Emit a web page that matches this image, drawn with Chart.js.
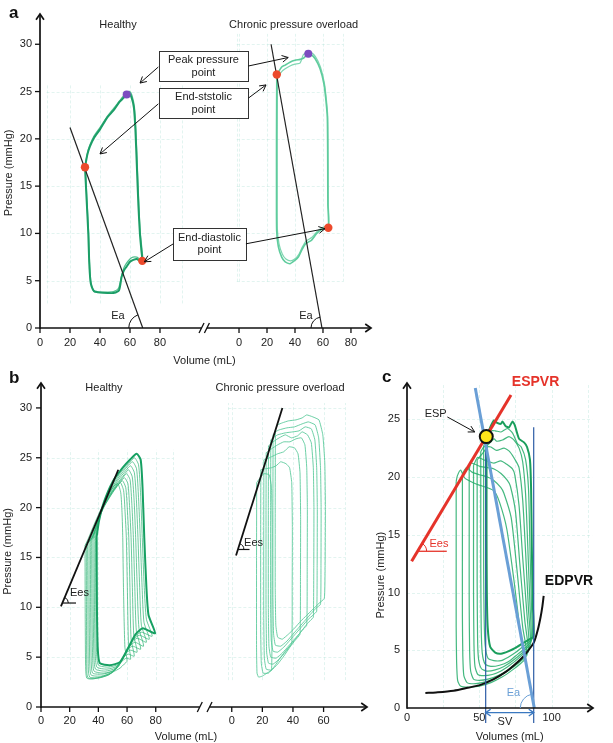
<!DOCTYPE html>
<html>
<head>
<meta charset="utf-8">
<title>Pressure-volume loops</title>
<script src="https://cdn.jsdelivr.net/npm/chart.js@4.4.1/dist/chart.umd.min.js"></script>
<style>
  body { margin: 0; background: #fff; }
  #page { position: relative; width: 613px; height: 743px; overflow: hidden; }
  canvas { position: absolute; }
</style>
</head>
<body>
<div id="page">
  <canvas id="panelA" width="390" height="370" style="left:0;top:0"></canvas>
  <canvas id="panelB" width="372" height="373" style="left:0;top:370px"></canvas>
  <canvas id="panelC" width="241" height="373" style="left:372px;top:370px"></canvas>
</div>
<script>
'use strict';
const FONT = '"Liberation Sans", Arial, Helvetica, sans-serif';

// ---------------- panel a : one beat per condition ----------------
let aYTicks = [0, 5, 10, 15, 20, 25, 30];
let aXTicks = [0, 20, 40, 60, 80];
let aHealthy = [[30,17],[31.1,13.5],[32.2,10],[32.8,7],[33.6,5],[34.4,4.4],[36,3.9],[40,3.75],[45,3.7],[48.9,3.7],[52.7,4.0],[54.4,5.4],[56,6.1],[57.8,6.5],[60,7.0],[62.2,7.2],[64.5,7.3],[66.5,7.1],[68.2,7.1],[67.6,8.2],[66.6,10],[65.6,13],[64.6,17],[63.6,21],[62.6,23.3],[61,24.4],[59.5,24.8],[57.8,24.7],[55.5,24.3],[53,23.9],[49,23.0],[45,22.3],[40,21.0],[36,20.1],[33.3,19.2],[31.5,18.3],[30,17]];
let aHealthy2 = [[30.2,17.2],[31.3,13.5],[32.4,10],[33,7],[33.8,5],[34.7,4.3],[36.3,3.85],[40,3.8],[45,3.8],[49,3.85],[52.4,4.2],[54,5.2],[55.8,6.3],[57.5,6.8],[60,7.3],[62,7.5],[64.5,7.5],[66.5,7.3],[68.5,7.2],[67.9,8.4],[66.9,10],[65.9,13],[64.9,17],[63.9,21],[62.9,23.4],[61.3,24.6],[59.8,25.0],[58,24.9],[55.5,24.5],[53,24.0],[49,23.2],[45,22.4],[40,21.2],[36,20.3],[33.4,19.4],[31.6,18.5],[30.2,17.2]];
let aChronic = [[27,26.8],[26.9,24],[26.8,20],[26.8,15],[26.9,10.3],[28.1,8.6],[30.5,7.5],[33,7.0],[36.4,6.8],[39.5,7.1],[42.4,7.5],[45,8.3],[47.5,8.9],[51.9,9.3],[55.5,10.0],[59.1,10.4],[63.8,10.6],[63.5,13],[63.4,17],[63.3,20],[63.1,22.3],[62.1,24.1],[60.7,25.8],[57.9,27.4],[54.3,28.5],[50.7,29.0],[49.5,29.0],[45.9,28.5],[43.6,28.4],[40,28.3],[36.4,28.1],[33,27.8],[30.5,27.6],[27,26.8]];
let aChronic2 = [[27.5,26.5],[27.4,24],[27.3,20],[27.3,15],[27.4,10.5],[28.6,8.9],[31,7.8],[33.5,7.3],[36.8,7.1],[39.8,7.3],[42.8,7.8],[45.4,8.6],[48,9.2],[52.2,9.6],[55.8,10.2],[59.4,10.6],[64,10.9],[63.8,13],[63.7,17],[63.6,20],[63.4,22.4],[62.4,24.2],[61,25.9],[58.2,27.6],[54.6,28.7],[51,29.2],[49.5,29.2],[46,28.9],[43.6,28.0],[40,27.9],[36.4,27.7],[33,27.4],[30.5,27.1],[27.5,26.5]];
let aHealthyKey = [[30,17],[68.2,7.1]];      // end-systolic, end-diastolic
let aHealthyPeak = [[57.8,24.7]];
let aChronicKey = [[27,26.8],[63.8,10.6]];
let aChronicPeak = [[49.5,29.0]];
let aHealthyEa = [[20,21.2],[68.5,0]];
let aChronicEa = [[22.9,30],[59.3,0]];

// ---------------- panel b : preload reduction ----------------
let bYTicks = [0, 5, 10, 15, 20, 25, 30];
let bXTicksLeft = [0, 20, 40, 60, 80];
let bXTicksRight = [0, 20, 40, 60];
let bHealthy = [
  [[38.8,17.1],[39,10],[39.6,5.8],[41,4.4],[48,4.2],[55,4.5],[61,6],[66,7.3],[71,7.9],[79.5,7.4],[75,9.2],[73.5,12],[72,17],[70.8,22],[69.5,24.8],[66.7,25.4],[62,24.8],[57,24],[50,22.6],[44,20.6],[40.5,18.7],[38.8,17.1]],
  [[38,17],[38.2,10],[38.7,5.6],[40,4.2],[47,4.0],[54,4.3],[60,5.7],[65,7.0],[70,7.5],[77.5,7.1],[73.5,8.8],[72,12],[70.6,17],[69.4,21.5],[68,24.3],[65.2,25.0],[61,24.4],[56,23.6],[49.5,22.2],[43.5,20.3],[40,18.5],[38,17]],
  [[37.1,16.9],[37.3,10],[37.8,5.4],[39,4.0],[46,3.8],[53,4.1],[59,5.4],[64,6.7],[68.5,7.2],[75.5,6.8],[71.8,8.5],[70.5,12],[69.2,17],[68,21],[66.6,23.9],[63.8,24.6],[60,24.1],[55,23.2],[49,21.9],[43,20.1],[39.3,18.3],[37.1,16.9]],
  [[36.2,16.8],[36.4,10],[36.9,5.2],[38,3.8],[45,3.6],[52,3.9],[58,5.1],[63,6.4],[67,6.9],[73.5,6.5],[70,8.2],[68.8,12],[67.6,17],[66.5,20.8],[65.1,23.5],[62.4,24.2],[59,23.7],[54,22.8],[48,21.5],[42.3,19.8],[38.6,18.1],[36.2,16.8]],
  [[35.3,16.7],[35.5,10],[36,5],[37,3.6],[44,3.4],[51,3.7],[57,4.8],[62,6.1],[65.5,6.5],[71.5,6.1],[68.3,7.9],[67.1,12],[66,17],[65,20.5],[63.6,23.1],[61,23.8],[58,23.3],[53,22.4],[47,21.1],[41.6,19.5],[37.9,17.8],[35.3,16.7]],
  [[34.4,16.6],[34.6,10],[35,4.7],[36,3.4],[43,3.3],[50,3.6],[56,4.6],[60.5,5.8],[64,6.1],[69.5,5.8],[66.5,7.6],[65.4,12],[64.4,17],[63.4,20.2],[62.1,22.8],[59.6,23.4],[56.5,22.9],[52,22.1],[46,20.8],[40.9,19.2],[37.2,17.5],[34.4,16.6]],
  [[33.5,16.5],[33.6,10],[34,4.3],[35,3.2],[42,3.1],[49,3.4],[55,4.3],[59,5.4],[62.5,5.7],[67,5.5],[64.7,7.2],[63.7,12],[62.8,17],[61.8,20],[60.6,22.4],[58.2,23.0],[55.5,22.6],[51,21.8],[45,20.4],[40.2,18.9],[36.5,17.2],[33.5,16.5]],
  [[32.5,16.4],[32.7,10],[33,3.8],[34,3.0],[41,2.95],[48,3.3],[54,4.1],[57.5,5.0],[61,5.3],[65,5.1],[62.8,6.8],[62,12],[61.2,17],[60.2,19.8],[59.1,22.0],[56.8,22.7],[54,22.3],[50,21.5],[44,20.1],[39.4,18.6],[35.5,17.0],[32.5,16.4]],
  [[31.6,16.3],[31.7,10],[32,3.4],[33,2.9],[40,2.9],[47,3.2],[53,3.9],[56.5,4.6],[59.5,4.9],[62.5,4.8],[61,6.4],[60.2,12],[59.5,17],[58.6,19.6],[57.6,21.7],[55.4,22.5],[52.5,22.1],[48.5,21.3],[43,19.9],[38.5,18.4],[34.6,16.9],[31.6,16.3]],
  [[30.7,16.2],[30.8,10],[31.1,4.2],[31.9,2.9],[36,2.8],[43.4,3.1],[50,3.5],[55.1,3.9],[58,4.3],[60,4.6],[58.5,6],[57.5,12],[57,17],[56.5,19.5],[55.6,21.5],[53.6,22.4],[51,22.2],[47,21.3],[42,19.9],[37,18.3],[33,16.9],[30.7,16.2]]
];
let bChronic = [
  [[28.5,27.8],[28.4,20],[28.4,12],[28.8,8.2],[30,7],[33,6.8],[37,7.3],[41,7.9],[45,8.6],[49,9.2],[53,9.8],[57,10.4],[60.5,10.9],[61,14],[61.2,20],[60.8,24.5],[59.5,27.3],[57,28.8],[53,29.1],[49,29.3],[46,29.0],[42,28.8],[37,28.7],[33,28.5],[30,28.3],[28.5,27.8]],
  [[27,27.3],[26.9,20],[26.9,11],[27.3,7.4],[28.5,6.2],[32,6.1],[36,6.6],[40,7.3],[44,8.0],[48,8.7],[52,9.4],[55,9.9],[58,10.3],[58.3,14],[58.4,20],[58,24],[56.8,27],[54.5,28.3],[50,28.6],[46,28.4],[41,28.1],[36,28.0],[31,27.8],[28.5,27.6],[27,27.3]],
  [[25.5,26.8],[25.4,20],[25.4,10],[25.8,6.7],[27,5.6],[30,5.5],[34,6.0],[38,6.7],[42,7.4],[46,8.1],[50,8.8],[53,9.2],[55.5,9.6],[55.8,14],[55.9,20],[55.5,24],[54.3,26.8],[52,27.9],[48,28.1],[44,27.7],[40,27.6],[35,27.5],[30,27.3],[27,27],[25.5,26.8]],
  [[24,26.2],[23.9,20],[23.9,10],[24.3,6.1],[25.5,5.0],[29,4.9],[33,5.4],[37,6.1],[41,6.8],[45,7.5],[49,8.3],[51.5,8.7],[53.3,9.0],[53.6,14],[53.7,20],[53.3,24],[52,26.5],[49.5,27.3],[46,27.6],[43,27.2],[39,27.0],[35,27.3],[31,27.0],[27,26.6],[24,26.2]],
  [[22.5,25.5],[22.4,20],[22.4,10],[22.8,5.5],[24,4.4],[27,4.3],[31,4.8],[35,5.5],[39,6.3],[43,7.1],[46,7.7],[49,8.2],[49.3,14],[49.4,20],[49,24],[47.8,26.3],[45.5,27.0],[42,26.9],[38,26.6],[34,26.6],[30,26.3],[26,25.9],[22.5,25.5]],
  [[21,24.8],[20.9,18],[20.9,9],[21.3,4.9],[22.5,3.8],[26,3.7],[30,4.3],[34,5.1],[38,6.0],[41.5,6.7],[44.6,7.3],[44.9,13],[45,19],[44.6,23.5],[43.3,25.4],[41,26.0],[37.5,26.1],[34,25.6],[30,25.4],[26,25.1],[23,24.9],[21,24.8]],
  [[19,23.8],[18.9,17],[18.9,8],[19.3,4.4],[20.5,3.4],[24,3.4],[28,4.1],[32,5.0],[35.5,5.7],[39.2,6.4],[39.5,12],[39.6,18],[39.2,22.5],[37.8,24.0],[35.5,24.4],[32,24.6],[29,24.2],[26,24.0],[22,23.9],[19,23.8]],
  [[16.3,22.5],[16.2,15],[16.2,6],[16.5,3.4],[17.5,3.0],[20,3.1],[23,3.4],[26,3.7],[26.3,10],[26.4,18],[26,22],[24.5,23.3],[21,23.4],[18,22.9],[16.3,22.5]]
];
let bHealthyEes = [[13.9,10.1],[53.9,23.8]];
let bChronicEes = [[2.8,15.2],[33.1,30]];

// ---------------- panel c : ESPVR / EDPVR ----------------
let cYTicks = [0, 5, 10, 15, 20, 25];
let cXTicks = [0, 50, 100];
let cLoops = [
  [[55,23.5],[55,20],[55,15],[55.2,10],[55.8,7],[57.5,5.3],[61,4.8],[65,4.7],[70,4.9],[75,5.2],[80,5.6],[84,5.9],[87.5,6.2],[87,9],[86.3,14],[85.8,19],[85,21.5],[83,22.6],[80.9,23.0],[77.5,23.3],[74.5,24.5],[72.9,24.8],[70.5,24.3],[68.3,24.4],[66,24.8],[64.8,24.6],[62,24.7],[60.2,24.9],[57.5,24.3],[55,23.5]],
  [[53,22.7],[53,18],[53,12],[53.3,8],[54,5.5],[56,4.3],[60,4.1],[65,4.1],[70,4.4],[75,4.8],[80,5.3],[84,5.7],[86.7,6.0],[86,9],[85,14],[84,19],[82,21.5],[79,22.6],[76.3,22.9],[73,23.8],[69.4,24.2],[65,23.9],[61,24.0],[57.8,24.0],[55,23.3],[53,22.7]],
  [[51,22.2],[51,18],[51,12],[51.3,7],[52,4.8],[54,3.8],[58,3.6],[64,3.7],[70,4.0],[75,4.5],[80,5.0],[84,5.5],[86,5.8],[85,9],[83.5,14],[82,18.5],[80,21.3],[77.5,22.5],[74,23.2],[70.5,23.5],[66,23.2],[62,23.1],[60.2,23.3],[56,22.8],[53,22.6],[51,22.2]],
  [[48.5,21.5],[48.5,17],[48.5,11],[48.8,6],[49.5,4.2],[51.5,3.4],[55,3.2],[61,3.3],[67,3.6],[73,4.1],[79,4.7],[83,5.2],[85.5,5.5],[84,8.5],[82,13.5],[80,18],[77.5,20.8],[75.2,21.4],[71,22.2],[67.1,22.5],[62,22.3],[58,22.6],[55.6,22.6],[52,22.0],[48.5,21.5]],
  [[46,21.0],[46,16],[46,10],[46.3,5.5],[47,3.6],[49,2.9],[53,2.8],[59,2.9],[65,3.2],[71,3.7],[77,4.3],[82,4.9],[84.5,5.2],[83,8],[80,13],[77.5,17.5],[74.5,20.2],[72.9,20.7],[69,21.1],[64.8,21.4],[60,21.2],[55,21.4],[51,21.6],[48.7,21.7],[46,21.0]],
  [[43,20.6],[43,15],[43,9],[43.3,5],[44,3.2],[46,2.5],[50,2.4],[56,2.5],[63,2.8],[70,3.3],[76,3.9],[81,4.5],[84,4.9],[81.5,7.5],[78,12.5],[75,17],[71.5,19.2],[69.4,19.7],[65,20.3],[60.2,20.7],[56,20.8],[51,20.9],[47,21.1],[44.1,21.2],[43,20.6]],
  [[38.3,20.3],[38.3,14],[38.3,8],[38.6,4.5],[39.3,2.8],[41.5,2.2],[46,2.1],[52,2.2],[60,2.5],[67,3.0],[74,3.6],[80,4.2],[83,4.6],[80,7],[76,12],[72,16.5],[67,18.6],[64.8,19.1],[60,19.7],[55.6,20.0],[50,20.2],[45.2,20.4],[41,20.8],[38.3,20.3]],
  [[34,19.6],[34,13],[34,7],[34.3,4],[35,2.4],[37,1.9],[42,1.8],[50,1.9],[58,2.2],[66,2.7],[73,3.3],[79,3.9],[82,4.3],[78.5,6.5],[74,11],[69,15.5],[64,17.8],[60.2,18.8],[55,19.1],[50,19.3],[45.8,19.5],[40,19.9],[37.1,20.6],[34.8,20.1],[34,19.6]]
];
let cEdpvr = [[12.7,1.3],[20,1.35],[32.2,1.5],[42,1.75],[50.8,2.0],[60,2.5],[68,3.1],[74,3.7],[80,4.4],[84,5.0],[87.8,5.7],[90.5,6.8],[92.4,7.9],[93.6,8.8],[94.5,9.7]];
let cEspvr = [[3.2,12.7],[71.9,27.1]];
let cEa = [[47.2,27.7],[88,0]];
let cEsp = [[54.8,23.5]];
let cEsv = [[54.4,-1.3],[54.4,23.5]];
let cEdv = [[87.6,-1.3],[87.6,24.3]];

// broken x axis: right hand plot is shifted along the same scale
const A_OFF = 132.7, A_K = 0.933;
const B_OFF = 133, B_K = 1.067;
function toA(v) { return A_OFF + A_K * v; }
function toB(v) { return B_OFF + B_K * v; }

function xy(pts, map) {
  return pts.map(p => ({ x: map ? map(p[0]) : p[0], y: p[1] }));
}
function lineSet(pts, color, width, tension) {
  return { data: pts, showLine: true, borderColor: color, borderWidth: width,
    pointRadius: 0, tension: tension || 0, fill: false };
}
function dotSet(pts, color, r) {
  return { data: pts, showLine: false, pointRadius: r, backgroundColor: color,
    borderColor: color, borderWidth: 0 };
}
function baseOptions(pad, xMax, yMax) {
  return {
    responsive: false, animation: false, events: [],
    layout: { padding: pad },
    scales: {
      x: { type: 'linear', display: false, min: 0, max: xMax },
      y: { type: 'linear', display: false, min: 0, max: yMax }
    },
    plugins: { legend: { display: false }, tooltip: { enabled: false } }
  };
}

// ---- drawing helpers ----
function P(chart, x, y) {
  return [chart.scales.x.getPixelForValue(x), chart.scales.y.getPixelForValue(y)];
}
function arrowHead(ctx, x1, y1, x2, y2, len, spread) {
  const a = Math.atan2(y2 - y1, x2 - x1);
  ctx.beginPath();
  ctx.moveTo(x2 - len * Math.cos(a - spread), y2 - len * Math.sin(a - spread));
  ctx.lineTo(x2, y2);
  ctx.lineTo(x2 - len * Math.cos(a + spread), y2 - len * Math.sin(a + spread));
  ctx.stroke();
}
function arrow(chart, from, to, color, width) {
  const ctx = chart.ctx;
  const [x1, y1] = P(chart, from[0], from[1]);
  const [x2, y2] = P(chart, to[0], to[1]);
  ctx.save();
  ctx.strokeStyle = color || '#111';
  ctx.lineWidth = width || 1;
  ctx.beginPath(); ctx.moveTo(x1, y1); ctx.lineTo(x2, y2); ctx.stroke();
  arrowHead(ctx, x1, y1, x2, y2, 7, 0.5);
  ctx.restore();
}
function label(chart, str, x, y, opt) {
  opt = opt || {};
  const ctx = chart.ctx;
  const [px, py] = P(chart, x, y);
  ctx.save();
  ctx.font = opt.font || ('11px ' + FONT);
  ctx.fillStyle = opt.color || '#222';
  ctx.textAlign = opt.align || 'center';
  ctx.textBaseline = 'middle';
  ctx.fillText(str, px, py);
  ctx.restore();
}
function noteBox(chart, box) {
  const ctx = chart.ctx;
  const [x1, y1] = P(chart, box.x0, box.y0);
  const [x2, y2] = P(chart, box.x1, box.y1);
  ctx.save();
  ctx.fillStyle = '#fff';
  ctx.fillRect(x1, y1, x2 - x1, y2 - y1);
  ctx.strokeStyle = '#333';
  ctx.lineWidth = 1;
  ctx.strokeRect(Math.round(x1) + 0.5, Math.round(y1) + 0.5, Math.round(x2 - x1), Math.round(y2 - y1));
  ctx.font = '11px ' + FONT;
  ctx.fillStyle = '#222';
  ctx.textAlign = 'center';
  ctx.textBaseline = 'middle';
  const cx = (x1 + x2) / 2, cy = (y1 + y2) / 2;
  box.lines.forEach((t, i) => {
    ctx.fillText(t, cx, cy + (i - (box.lines.length - 1) / 2) * 12.5);
  });
  ctx.restore();
}
// angle mark between a horizontal and a sloping line
function angleMark(chart, at, other, r, side, color) {
  const ctx = chart.ctx;
  const [cx, cy] = P(chart, at[0], at[1]);
  const [ox, oy] = P(chart, other[0], other[1]);
  const a = Math.atan2(oy - cy, ox - cx);
  ctx.save();
  ctx.strokeStyle = color || '#111';
  ctx.lineWidth = 1;
  ctx.beginPath();
  if (side === 'left') ctx.arc(cx, cy, r, -Math.PI, a, false);
  else ctx.arc(cx, cy, r, a, 0, false);
  ctx.stroke();
  ctx.restore();
}
function hLine(chart, x0, x1, y, color, width) {
  const ctx = chart.ctx;
  const [a, py] = P(chart, x0, y);
  const [b] = P(chart, x1, y);
  ctx.save();
  ctx.strokeStyle = color; ctx.lineWidth = width || 1;
  ctx.beginPath(); ctx.moveTo(a, py); ctx.lineTo(b, py); ctx.stroke();
  ctx.restore();
}
function drawGrid(chart, g) {
  const ctx = chart.ctx, xs = chart.scales.x, ys = chart.scales.y;
  ctx.save();
  ctx.strokeStyle = 'rgba(160,220,205,0.3)';
  ctx.lineWidth = 1;
  ctx.setLineDash([3, 2]);
  g.xs.forEach(v => {
    const x = Math.round(xs.getPixelForValue(v)) + 0.5;
    ctx.beginPath(); ctx.moveTo(x, ys.getPixelForValue(g.y0)); ctx.lineTo(x, ys.getPixelForValue(g.y1)); ctx.stroke();
  });
  g.ys.forEach(v => {
    const y = Math.round(ys.getPixelForValue(v)) + 0.5;
    ctx.beginPath(); ctx.moveTo(xs.getPixelForValue(g.x0), y); ctx.lineTo(xs.getPixelForValue(g.x1), y); ctx.stroke();
  });
  ctx.restore();
}
function drawAxes(chart, cfg) {
  const ctx = chart.ctx, area = chart.chartArea;
  const xs = chart.scales.x, ys = chart.scales.y;
  const ox = xs.getPixelForValue(0), oy = ys.getPixelForValue(0);
  ctx.save();
  ctx.strokeStyle = '#111';
  ctx.lineWidth = 1.7;
  ctx.beginPath(); ctx.moveTo(ox, oy + 0.8); ctx.lineTo(ox, area.top); ctx.stroke();
  arrowHead(ctx, ox, oy, ox, area.top, 7, 0.6);
  cfg.segs.forEach((s, i) => {
    const a = xs.getPixelForValue(s.from), b = xs.getPixelForValue(s.to);
    ctx.beginPath(); ctx.moveTo(a, oy); ctx.lineTo(b, oy); ctx.stroke();
    if (i === cfg.segs.length - 1) arrowHead(ctx, a, oy, b, oy, 7, 0.6);
  });
  ctx.lineWidth = 1.3;
  (cfg.breaks || []).forEach(v => {
    const bx = xs.getPixelForValue(v);
    ctx.beginPath(); ctx.moveTo(bx - 2.5, oy + 5); ctx.lineTo(bx + 2.5, oy - 5); ctx.stroke();
  });
  ctx.fillStyle = '#222';
  ctx.font = '11px ' + FONT;
  ctx.textAlign = 'right';
  ctx.textBaseline = 'middle';
  cfg.yTicks.forEach(v => {
    const ty = ys.getPixelForValue(v);
    if (cfg.tick) { ctx.beginPath(); ctx.moveTo(ox - cfg.tick, ty); ctx.lineTo(ox, ty); ctx.stroke(); }
    ctx.fillText(String(v), ox - cfg.yGap, ty);
  });
  ctx.textAlign = 'center';
  cfg.segs.forEach(s => s.ticks.forEach(t => {
    const tx = xs.getPixelForValue(t.at);
    if (cfg.tick) { ctx.beginPath(); ctx.moveTo(tx, oy); ctx.lineTo(tx, oy + cfg.tick); ctx.stroke(); }
    ctx.fillText(String(t.label), tx, oy + cfg.xGap);
  }));
  // axis titles
  ctx.fillText(cfg.xTitle.text, xs.getPixelForValue(cfg.xTitle.x), oy + cfg.xTitle.dy);
  ctx.save();
  ctx.translate(ox - cfg.yTitle.dx, ys.getPixelForValue(cfg.yTitle.y));
  ctx.rotate(-Math.PI / 2);
  ctx.fillText(cfg.yTitle.text, 0, 0);
  ctx.restore();
  // panel letter
  ctx.font = 'bold 17px ' + FONT;
  ctx.fillStyle = '#111';
  ctx.textAlign = 'left';
  ctx.fillText(cfg.letter.text, cfg.letter.x, cfg.letter.y);
  ctx.restore();
}

// ================= panel a =================
const panelAPlugin = {
  id: 'panelA',
  beforeDatasetsDraw(chart) {
    drawGrid(chart, { xs: [4.4, 20, 40, 60, 80, 94.4], ys: [5, 10, 15, 20, 25], x0: 4.4, x1: 94.4, y0: 2.6, y1: 25.7 });
    drawGrid(chart, { xs: [-1.6, 0, 20, 40, 60, 74.5].map(toA), ys: [5, 10, 15, 20, 25, 30], x0: toA(-1.6), x1: toA(74.5), y0: 4.9, y1: 31.1 });
  },
  afterDatasetsDraw(chart) {
    drawAxes(chart, {
      yTicks: aYTicks, tick: 5, yGap: 8, xGap: 15,
      segs: [
        { from: 0, to: 107.7, ticks: aXTicks.map(v => ({ at: v, label: v })) },
        { from: 111.3, to: 220.7, ticks: aXTicks.map(v => ({ at: toA(v), label: v })) }
      ],
      breaks: [107.7, 111.3],
      xTitle: { text: 'Volume (mL)', x: 109.7, dy: 33 },
      yTitle: { text: 'Pressure (mmHg)', y: 16.4, dx: 31 },
      letter: { text: 'a', x: 9, y: 13 }
    });
    label(chart, 'Healthy', 52, 32.0);
    label(chart, 'Chronic pressure overload', 169.1, 32.0);
    noteBox(chart, { x0: 79.3, x1: 138.7, y0: 29.25, y1: 26.08, lines: ['Peak pressure', 'point'] });
    noteBox(chart, { x0: 79.3, x1: 138.7, y0: 25.34, y1: 22.18, lines: ['End-ststolic', 'point'] });
    noteBox(chart, { x0: 88.7, x1: 137.3, y0: 10.56, y1: 7.18, lines: ['End-diastolic', 'point'] });
    arrow(chart, [78.9, 27.6], [66.7, 25.9]);
    arrow(chart, [138.9, 27.7], [165.5, 28.6]);
    arrow(chart, [78.9, 23.7], [40, 18.4]);
    arrow(chart, [138.9, 24.3], [150.7, 25.7]);
    arrow(chart, [88.9, 8.9], [69.6, 7.0]);
    arrow(chart, [137.3, 8.9], [190, 10.5]);
    label(chart, 'Ea', 52, 1.3);
    label(chart, 'Ea', 177.3, 1.3);
    angleMark(chart, aHealthyEa[1], aHealthyEa[0], 14, 'left');
    angleMark(chart, [toA(aChronicEa[1][0]), 0], [toA(aChronicEa[0][0]), aChronicEa[0][1]], 11, 'left');
  }
};

new Chart(document.getElementById('panelA'), {
  type: 'scatter',
  data: {
    datasets: [
      dotSet(xy(aHealthyPeak), '#7c4dc0', 4),
      dotSet(xy(aChronicPeak, toA), '#7c4dc0', 4),
      dotSet(xy(aHealthyKey), '#ec4a2c', 4.2),
      dotSet(xy(aChronicKey, toA), '#ec4a2c', 4.2),
      lineSet(xy(aHealthyEa), '#222', 1.2),
      lineSet(xy(aChronicEa, toA), '#222', 1.2),
      lineSet(xy(aHealthy), '#1c9e67', 2, 0.2),
      lineSet(xy(aHealthy2), 'rgba(40,175,115,0.8)', 1.3, 0.2),
      lineSet(xy(aChronic, toA), '#5fcc9d', 1.6, 0.2),
      lineSet(xy(aChronic2, toA), 'rgba(95,204,157,0.8)', 1.2, 0.2)
    ]
  },
  options: baseOptions({ left: 40, right: 19, top: 14, bottom: 42 }, 220.7, 33.2),
  plugins: [panelAPlugin]
});

// ================= panel b =================
const panelBPlugin = {
  id: 'panelB',
  beforeDatasetsDraw(chart) {
    drawGrid(chart, { xs: [4, 20, 40, 60, 80, 92.3], ys: [5, 10, 15, 20, 25], x0: 4, x1: 92.3, y0: 2.7, y1: 25.8 });
    drawGrid(chart, { xs: [-2.2, 0, 20, 40, 60, 74].map(toB), ys: [5, 10, 15, 20, 25, 30], x0: toB(-2.2), x1: toB(74), y0: 2.7, y1: 30.5 });
  },
  afterDatasetsDraw(chart) {
    drawAxes(chart, {
      yTicks: bYTicks, tick: 5, yGap: 9, xGap: 14,
      segs: [
        { from: 0, to: 110.7, ticks: bXTicksLeft.map(v => ({ at: v, label: v })) },
        { from: 117.5, to: 227.3, ticks: bXTicksRight.map(v => ({ at: toB(v), label: v })) }
      ],
      breaks: [110.7, 117.5],
      xTitle: { text: 'Volume (mL)', x: 101.1, dy: 30 },
      yTitle: { text: 'Pressure (mmHg)', y: 15.6, dx: 33 },
      letter: { text: 'b', x: 9, y: 8 }
    });
    label(chart, 'Healthy', 43.9, 32.0);
    label(chart, 'Chronic pressure overload', 166.7, 32.0);
    hLine(chart, 14.9, 24.4, 10.43, '#111', 1.2);
    angleMark(chart, [14.9, 10.43], bHealthyEes[1], 6, 'right');
    label(chart, 'Ees', 20.2, 11.4, { align: 'left' });
    hLine(chart, toB(4.0), toB(11.6), 15.8, '#111', 1.2);
    angleMark(chart, [toB(4.0), 15.8], [toB(bChronicEes[1][0]), bChronicEes[1][1]], 6, 'right');
    label(chart, 'Ees', 141.6, 16.5, { align: 'left' });
  }
};

let bSets = [
  lineSet(xy(bHealthyEes), '#111', 1.8),
  lineSet(xy(bChronicEes, toB), '#111', 1.8)
];
bHealthy.forEach((loop, i) => {
  bSets.push(lineSet(xy(loop), i === 0 ? '#16a062' : 'rgba(45,180,115,0.7)', i === 0 ? 2 : 1, 0.2));
});
bChronic.forEach(loop => {
  bSets.push(lineSet(xy(loop, toB), 'rgba(85,200,150,0.85)', 1, 0.12));
});

new Chart(document.getElementById('panelB'), {
  type: 'scatter',
  data: { datasets: bSets },
  options: baseOptions({ left: 41, right: 5, top: 13, bottom: 36 }, 227.3, 32.5),
  plugins: [panelBPlugin]
});

// ================= panel c =================
const panelCPlugin = {
  id: 'panelC',
  beforeDatasetsDraw(chart) {
    drawGrid(chart, { xs: [25, 50, 75, 100, 125], ys: [5, 10, 15, 20, 25], x0: 0, x1: 128, y0: 0, y1: 28 });
  },
  afterDatasetsDraw(chart) {
    drawAxes(chart, {
      yTicks: cYTicks, tick: 0, yGap: 7, xGap: 10,
      segs: [{ from: 0, to: 128.6, ticks: cXTicks.map(v => ({ at: v, label: v })) }],
      xTitle: { text: 'Volumes (mL)', x: 71, dy: 29 },
      yTitle: { text: 'Pressure (mmHg)', y: 11.5, dx: 26 },
      letter: { text: 'c', x: 10, y: 7 }
    });
    const bold = 'bold 14px ' + FONT;
    label(chart, 'ESPVR', 88.9, 28.2, { font: bold, color: '#e5332a' });
    label(chart, 'EDPVR', 112, 11.0, { font: bold, color: '#111' });
    label(chart, 'ESP', 19.8, 25.5);
    arrow(chart, [27.9, 25.2], [46.8, 23.9]);
    hLine(chart, 7.35, 27.5, 13.57, '#e5332a', 1.3);
    angleMark(chart, [7.35, 13.57], cEspvr[1], 9, 'right', '#e5332a');
    label(chart, 'Ees', 22.1, 14.2, { color: '#e5332a' });
    label(chart, 'Ea', 73.6, 1.3, { color: '#6a9fd6' });
    angleMark(chart, cEa[1], cEa[0], 14, 'left', '#6a9fd6');
    // stroke volume arrow between the two volume markers
    const ctx = chart.ctx;
    const [sx1, sy] = P(chart, cEsv[0][0], -0.4);
    const [sx2] = P(chart, cEdv[0][0], -0.4);
    ctx.save();
    ctx.strokeStyle = '#3a78c0';
    ctx.lineWidth = 1.4;
    ctx.beginPath(); ctx.moveTo(sx1, sy); ctx.lineTo(sx2, sy); ctx.stroke();
    arrowHead(ctx, sx2, sy, sx1, sy, 6, 0.6);
    arrowHead(ctx, sx1, sy, sx2, sy, 6, 0.6);
    ctx.restore();
    label(chart, 'SV', 67.7, -1.2);
  }
};

let cSets = [
  Object.assign(dotSet(xy(cEsp), '#ffe41a', 6.5), { borderColor: '#111', borderWidth: 2 }),
  lineSet(xy(cEspvr), '#e5332a', 3),
  lineSet(xy(cEa), '#6a9fd6', 3),
  Object.assign(lineSet(xy(cEsv), '#2d5ca6', 1.2), { clip: false }),
  Object.assign(lineSet(xy(cEdv), '#2d5ca6', 1.2), { clip: false }),
  lineSet(xy(cEdpvr), '#111', 2, 0.3)
];
cLoops.forEach((loop, i) => {
  cSets.push(lineSet(xy(loop), i === 0 ? '#1a9e5c' : 'rgba(35,172,105,0.85)', i === 0 ? 2 : 1.2, 0.2));
});

new Chart(document.getElementById('panelC'), {
  type: 'scatter',
  data: { datasets: cSets },
  options: baseOptions({ left: 35, right: 20, top: 13, bottom: 35 }, 128.6, 28.14),
  plugins: [panelCPlugin]
});
</script>
</body>
</html>
